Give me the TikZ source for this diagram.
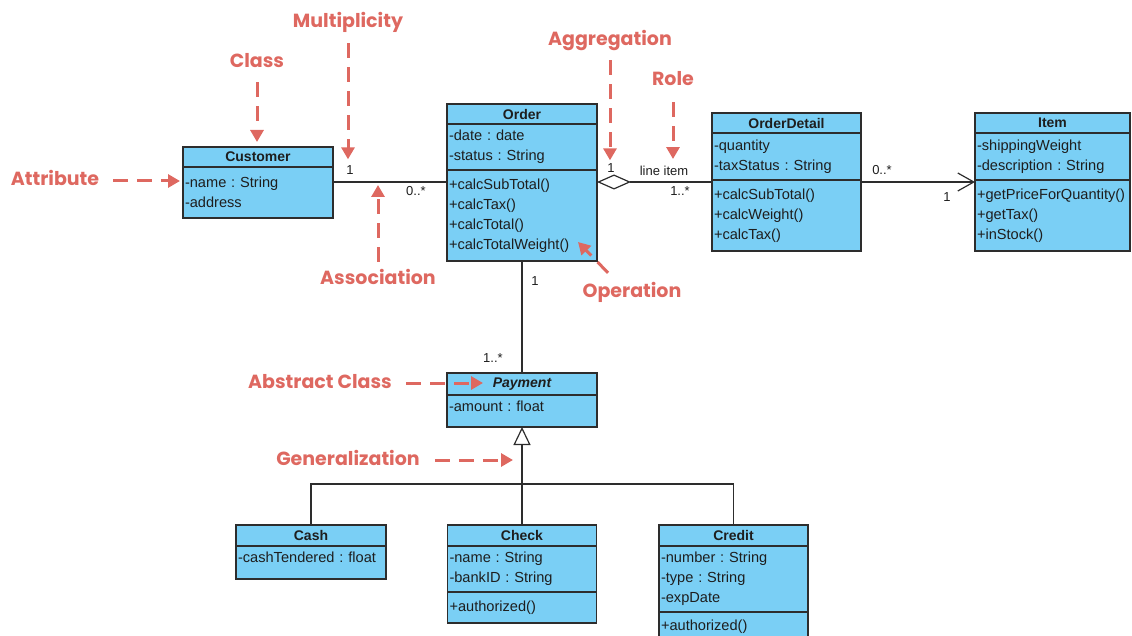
\documentclass[tikz,border=0pt]{standalone}
\usepackage{fontspec}
\setmainfont{Liberation Sans}
\newfontfamily\notefont{Poppins}
\usepackage{xcolor}
\usetikzlibrary{arrows.meta,positioning,calc}
\definecolor{umlblue}{RGB}{122,207,245}
\definecolor{umlline}{RGB}{45,45,45}
\definecolor{umltext}{RGB}{30,30,30}
\definecolor{notered}{RGB}{222,104,96}
\frenchspacing

\tikzset{
    clshead/.style={draw=umlline, fill=umlblue, line width=1.2pt, outer sep=0pt,
        inner sep=0pt, anchor=north, minimum height=20pt, text=umltext,
        font=\fontsize{14}{16}\selectfont\bfseries},
    clsbody/.style={draw=umlline, fill=umlblue, line width=1.2pt, outer sep=0pt,
        inner xsep=2pt, inner ysep=0pt, anchor=north, align=left, text=umltext,
        font=\fontsize{14.6}{20}\selectfont},
    assoc/.style={draw=umlline, line width=1.2pt},
    mult/.style={text=umltext, inner sep=1pt, font=\fontsize{13}{15}\selectfont},
    notelabel/.style={text=notered, inner sep=0pt, text height=14pt, text depth=4pt,
        font=\notefont\bfseries\fontsize{19}{21}\selectfont},
    note/.style={draw=notered, line width=3pt, dash pattern=on 15pt off 9pt,
        -{Triangle[length=12pt,width=13pt,fill=notered]}},
}

\begin{document}
\begin{tikzpicture}[x=1pt, y=-1pt]
    \useasboundingbox (0,0) rectangle (1132,636);

    % Customer
    \node[clshead, minimum width=150pt] (customer-h) at (258,147) {Customer};
    \node[clsbody, text width=146pt, minimum height=51pt] (customer-a) at (customer-h.south)
        {-name : String\\-address};

    % Order
    \node[clshead, minimum width=150pt] (order-h) at (522,104) {Order};
    \node[clsbody, text width=146pt, minimum height=46pt] (order-a) at (order-h.south)
        {-date : date\\-status : String};
    \node[clsbody, text width=146pt, minimum height=91pt] (order-o) at (order-a.south)
        {+calcSubTotal()\\+calcTax()\\+calcTotal()\\+calcTotalWeight()};

    % OrderDetail
    \node[clshead, minimum width=149pt] (detail-h) at (786.5,113) {OrderDetail};
    \node[clsbody, text width=145pt, minimum height=47pt] (detail-a) at (detail-h.south)
        {-quantity\\-taxStatus : String};
    \node[clsbody, text width=145pt, minimum height=71pt] (detail-o) at (detail-a.south)
        {+calcSubTotal()\\+calcWeight()\\+calcTax()};

    % Item
    \node[clshead, minimum width=155pt] (item-h) at (1052.5,113) {Item};
    \node[clsbody, text width=151pt, minimum height=47pt] (item-a) at (item-h.south)
        {-shippingWeight\\-description : String};
    \node[clsbody, text width=151pt, minimum height=71pt] (item-o) at (item-a.south)
        {+getPriceForQuantity()\\+getTax()\\+inStock()};

    % Payment (abstract)
    \node[clshead, minimum width=150pt, minimum height=22pt, font=\fontsize{14}{16}\selectfont\bfseries\itshape]
        (payment-h) at (522,373) {Payment};
    \node[clsbody, text width=146pt, minimum height=32pt, text depth=10pt] (payment-a) at (payment-h.south)
        {-amount : float};

    % Cash, Check, Credit
    \node[clshead, minimum width=150pt, minimum height=21pt] (cash-h) at (311,525) {Cash};
    \node[clsbody, text width=146pt, minimum height=33pt, text depth=10pt] (cash-a) at (cash-h.south)
        {-cashTendered : float};

    \node[clshead, minimum width=149pt, minimum height=21pt] (check-h) at (522,525) {Check};
    \node[clsbody, text width=145pt, minimum height=46pt] (check-a) at (check-h.south)
        {-name : String\\-bankID : String};
    \node[clsbody, text width=145pt, minimum height=31pt] (check-o) at (check-a.south)
        {+authorized()};

    \node[clshead, minimum width=149pt, minimum height=21pt] (credit-h) at (733.5,525) {Credit};
    \node[clsbody, text width=145pt, minimum height=66pt] (credit-a) at (credit-h.south)
        {-number : String\\-type : String\\-expDate};
    \node[clsbody, text width=145pt, minimum height=30pt] (credit-o) at (credit-a.south)
        {+authorized()};

    % Connectors
    \coordinate (row) at (0,182);
    \coordinate (bus) at (0,484);
    \draw[assoc] (customer-a.east |- row) -- (order-o.west |- row);
    \draw[assoc, {Diamond[open,fill=white,length=34pt,width=15pt]}-] (order-o.east |- row) -- (detail-o.west |- row);
    \draw[assoc, -{Straight Barb[length=16pt,width=18pt]}] (detail-o.east |- row) -- (item-o.west |- row);
    \draw[assoc] (order-o.south) -- (payment-h.north);
    \draw[assoc, -{Triangle[open,fill=white,length=18pt,width=17pt]}] (check-h.north) -- (payment-a.south);
    \draw[assoc] (cash-h.north) -- (cash-h.north |- bus) -- (credit-h.north |- bus) -- (credit-h.north);

    % Multiplicities and role
    \node[mult] (m-cust) at (350,170) {1};
    \node[mult] (m-order) at (416,191) {0..*};
    \node[mult] (m-agg) at (611,168) {1};
    \node[mult] (l-role) at (664,171) {line item};
    \node[mult] (m-detail) at (680,191) {1..*};
    \node[mult] (m-detail2) at (882,170) {0..*};
    \node[mult] (m-item) at (947,197) {1};
    \node[mult] (m-pay1) at (535,281) {1};
    \node[mult] (m-pay2) at (493,358) {1..*};

    % Annotations
    \node[notelabel] (n-class) at (257,63) {Class};
    \node[notelabel] (n-mult) at (348,23) {Multiplicity};
    \node[notelabel] (n-attr) at (55,181) {Attribute};
    \node[notelabel] (n-assoc) at (378,279) {Association};
    \node[notelabel] (n-aggr) at (610,41) {Aggregation};
    \node[notelabel] (n-role) at (673,81) {Role};
    \node[notelabel] (n-oper) at (632,293) {Operation};
    \node[notelabel] (n-abs) at (320,383) {Abstract Class};
    \node[notelabel] (n-gen) at (348,460) {Generalization};

    \draw[note, shorten <=10pt, shorten >=5pt] (n-class.south) -- (n-class.south |- customer-h.north);
    \draw[note, shorten <=11pt, shorten >=5pt] (n-mult.south) -- (n-mult.south |- m-cust.north);
    \draw[note, shorten <=14pt, shorten >=3pt] (n-attr.east) -- (n-attr.east -| customer-a.west);
    \draw[note, shorten <=8pt, shorten >=3pt] (n-assoc.north) -- (n-assoc.north |- row);
    \draw[note, shorten <=10pt, shorten >=2pt] (n-aggr.south) -- (n-aggr.south |- m-agg.north);
    \draw[note, shorten <=12pt, shorten >=6pt] (n-role.south) -- (n-role.south |- l-role.north);
    \draw[note] ([xshift=-24pt,yshift=11pt]n-oper.north) -- ([xshift=-19pt,yshift=19pt]order-o.south east);
    \draw[note, shorten <=14pt, shorten >=39pt] (n-abs.east) -- (n-abs.east -| payment-h.center);
    \draw[note, shorten <=15pt, shorten >=9pt] (n-gen.east) -- (n-gen.east -| check-h.north);
\end{tikzpicture}
\end{document}
